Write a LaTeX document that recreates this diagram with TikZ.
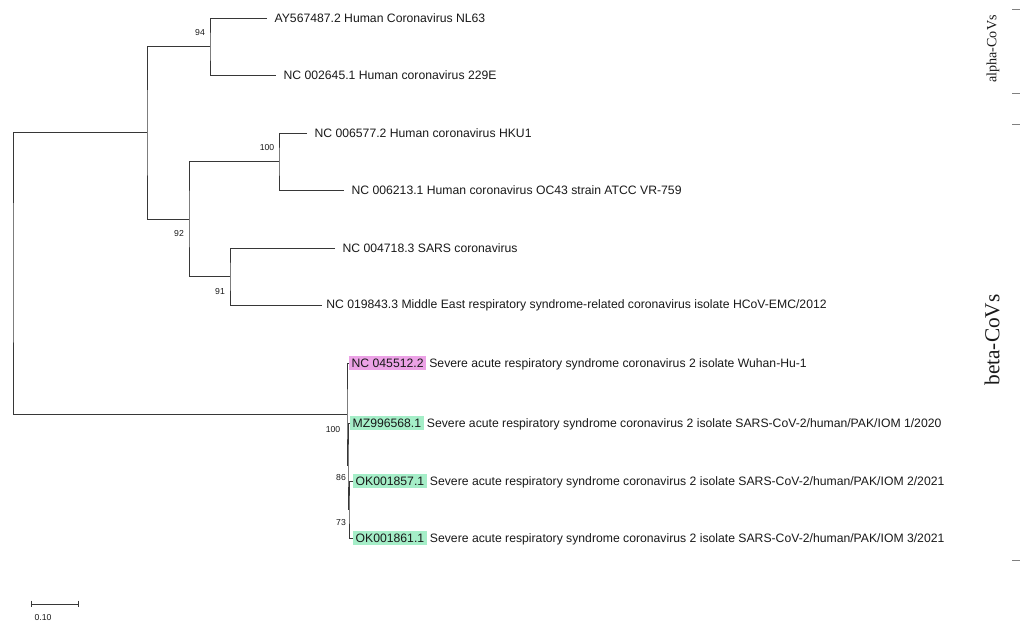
\documentclass[tikz,border=0pt]{standalone}
\usepackage{fontspec}
\setmainfont{Liberation Sans}
\newfontfamily\serifcov{Liberation Serif}
\definecolor{hlmag}{RGB}{236,162,230}
\definecolor{hlgreen}{RGB}{165,238,200}
\definecolor{linegray}{RGB}{55,55,55}
\definecolor{txt}{RGB}{25,25,25}
\newcommand\hlbox[2]{{\setlength{\fboxsep}{1.8pt}\colorbox{#1}{#2}}}
\begin{document}
\begin{tikzpicture}[x=0.75pt,y=-0.75pt,
  br/.style={draw=linegray, line width=0.7pt},
  leaf/.style={anchor=west, inner xsep=5.5pt, inner ysep=0pt, text=txt,
    font=\fontsize{9.15}{10}\selectfont},
  hleaf/.style={leaf, inner xsep=0pt},
  boot/.style={inner sep=0pt, text=txt, font=\fontsize{6.5}{7}\selectfont},
  clade/.style={rotate=90, inner sep=0pt, text=txt}]
\useasboundingbox (0,0) rectangle (1020,633);
% internal nodes
\coordinate (R) at (13,272);
\coordinate (A) at (147,132.5);
\coordinate (Al) at (210,46.5);
\coordinate (B) at (189,219);
\coordinate (C) at (279,161.5);
\coordinate (D) at (230,276.5);
\coordinate (E) at (347,414);
\coordinate (F) at (348,465);
\coordinate (G) at (349,509.5);
% leaves
\node[leaf] (nl63) at (267,18) {AY567487.2 Human Coronavirus NL63};
\node[leaf] (e229) at (276,75) {NC 002645.1 Human coronavirus 229E};
\node[leaf] (hku1) at (307,133) {NC 006577.2 Human coronavirus HKU1};
\node[leaf] (oc43) at (344,190) {NC 006213.1 Human coronavirus OC43 strain ATCC VR-759};
\node[leaf] (sars) at (335,248) {NC 004718.3 SARS coronavirus};
\node[leaf, inner xsep=3pt] (mers) at (322,305) {NC 019843.3 Middle East respiratory syndrome-related coronavirus isolate HCoV-EMC/2012};
\node[hleaf] (wuhan) at (349,363) {\hlbox{hlmag}{NC 045512.2} Severe acute respiratory syndrome coronavirus 2 isolate Wuhan-Hu-1};
\node[hleaf] (mz) at (350,423) {\hlbox{hlgreen}{MZ996568.1} Severe acute respiratory syndrome coronavirus 2 isolate SARS-CoV-2/human/PAK/IOM 1/2020};
\node[hleaf] (ok57) at (353,481) {\hlbox{hlgreen}{OK001857.1} Severe acute respiratory syndrome coronavirus 2 isolate SARS-CoV-2/human/PAK/IOM 2/2021};
\node[hleaf] (ok61) at (353,538) {\hlbox{hlgreen}{OK001861.1} Severe acute respiratory syndrome coronavirus 2 isolate SARS-CoV-2/human/PAK/IOM 3/2021};
% branches
\draw[br] (A) -| (R) |- (E);
\draw[br] (Al) -| (A) |- (B);
\draw[br] (nl63.west) -| (Al) |- (e229.west);
\draw[br] (C) -| (B) |- (D);
\draw[br] (hku1.west) -| (C) |- (oc43.west);
\draw[br] (sars.west) -| (D) |- (mers.west);
\draw[br] (wuhan.west) -| (E) |- (F);
\draw[br] (mz.west) -| (F) |- (G);
\draw[br] (ok57.west) -| (G) |- (ok61.west);
% bootstrap values
\node[boot] (b94) at (200,33) {94};
\node[boot] (b100a) at (267,148) {100};
\node[boot] (b92) at (179,234) {92};
\node[boot] (b91) at (220,292) {91};
\node[boot] (b100b) at (333,430) {100};
\node[boot] (b86) at (341,478) {86};
\node[boot] (b73) at (341,523) {73};
% scale bar
\coordinate (s1) at (31,604);
\coordinate (s2) at (78,604);
\draw[br] (s1) -- (s2);
\draw[br] ([yshift=2.5pt]s1) -- ([yshift=-2.5pt]s1);
\draw[br] ([yshift=2.5pt]s2) -- ([yshift=-2.5pt]s2);
\node[boot] (sc) at (43,618) {0.10};
% clade labels
\node[clade, font=\serifcov\fontsize{10.6}{12}\selectfont] (alpha) at (993,49) {alpha-CoVs};
\node[clade, font=\serifcov\fontsize{16}{18}\selectfont] (beta) at (992,340) {beta-CoVs};
\coordinate (t1) at (1012,9);
\coordinate (t2) at (1012,93);
\coordinate (t3) at (1012,124);
\coordinate (t4) at (1012,560);
\foreach \t in {t1,t2,t3,t4} \draw[br, draw=gray] (\t) -- ++(8,0);
\end{tikzpicture}
\end{document}
